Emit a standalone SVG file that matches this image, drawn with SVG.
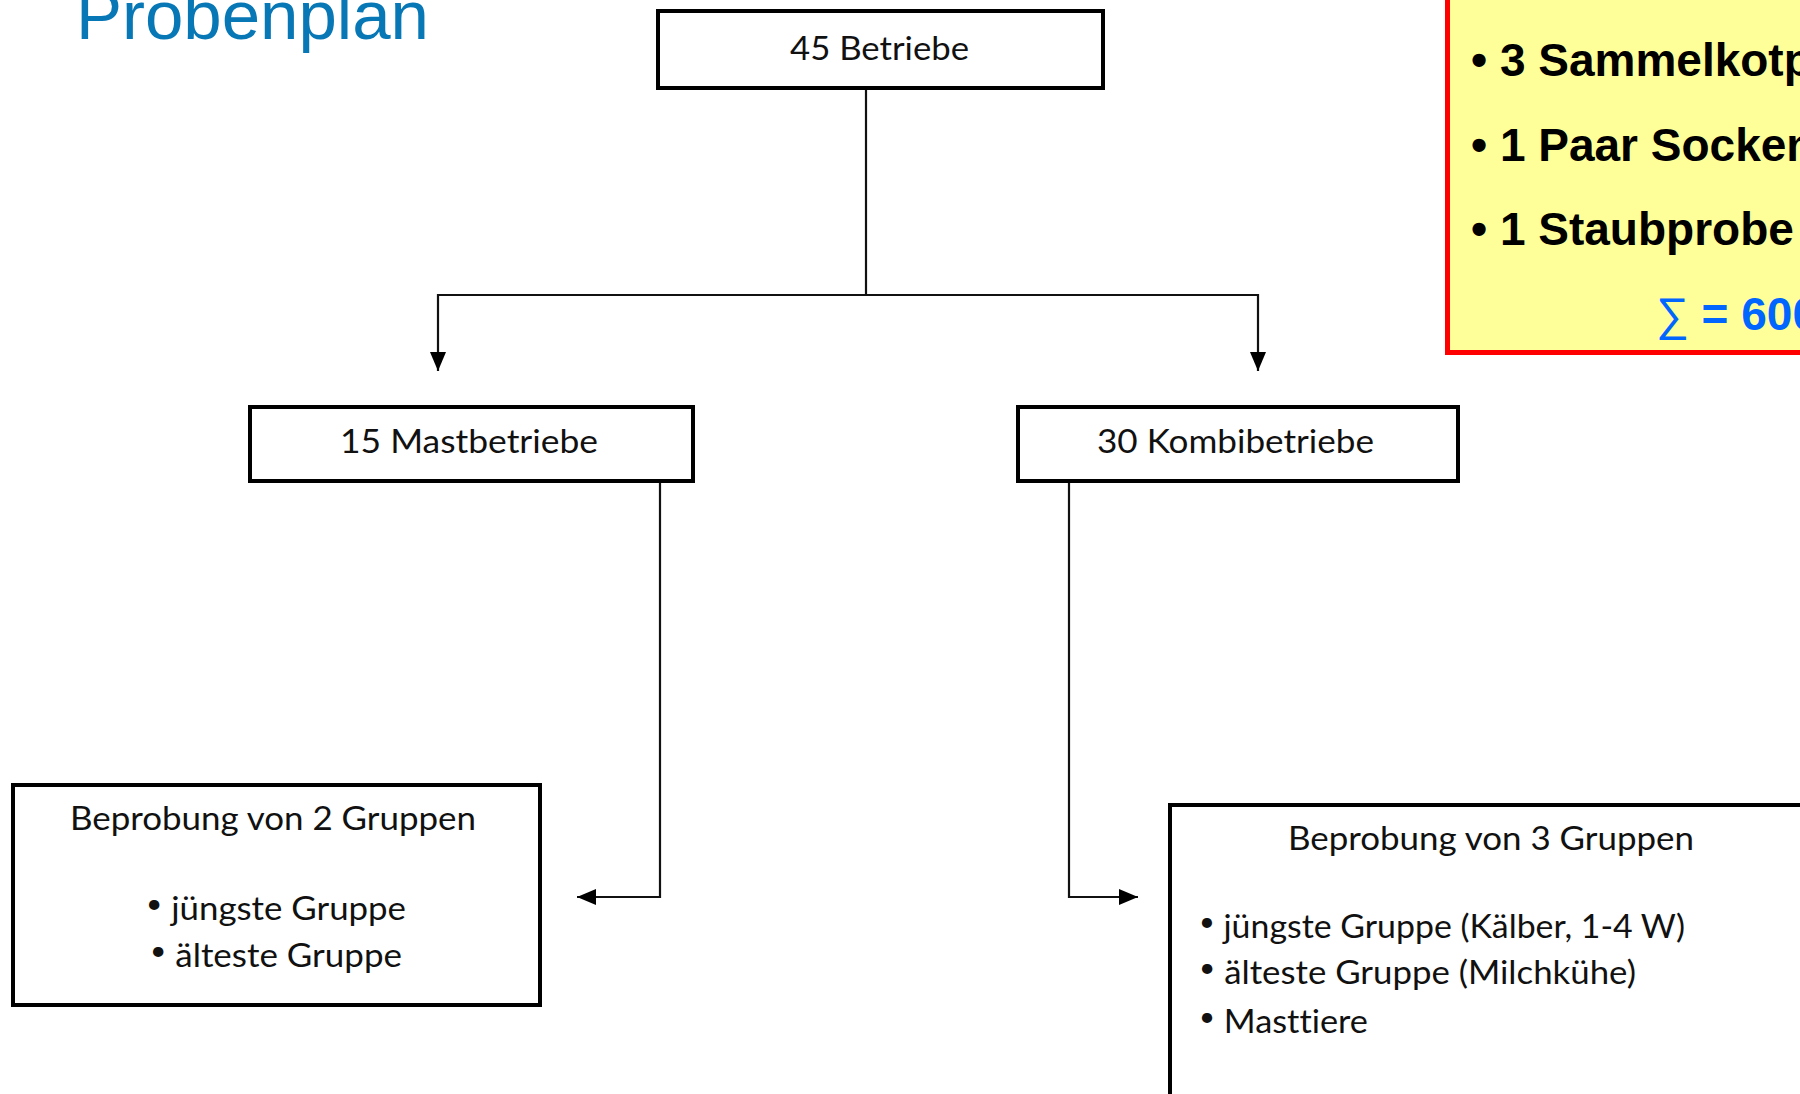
<svg xmlns="http://www.w3.org/2000/svg" width="1800" height="1094" viewBox="0 0 1800 1094">
<defs>
<style>
.box{fill:#fff;stroke:#000;stroke-width:4}
.lbl{font-family:Lato,"Liberation Sans",sans-serif;font-size:33.5px;fill:#111;font-variant-ligatures:none}
.bul{font-size:27px;baseline-shift:7px}
.con{fill:none;stroke:#111;stroke-width:2.2}
.note{font-family:"Liberation Sans",Arial,sans-serif;font-size:46px;font-weight:bold;fill:#000}
.sum{fill:#0066FF}
</style>
<marker id="ah" markerUnits="userSpaceOnUse" markerWidth="22" markerHeight="18" refX="19" refY="8" orient="auto">
<path d="M0,0 L19,8 L0,16 z" fill="#000"/>
</marker>
</defs>
<rect width="1800" height="1094" fill="#fff"/>
<text id="title" x="76" y="39" font-family="Liberation Sans,Arial,sans-serif" font-size="69" fill="#0877B5">Probenplan</text>

<g id="connectors">
<path class="con" d="M866,90 V295"/>
<path class="con" d="M866,295 H438 V371" marker-end="url(#ah)"/>
<path class="con" d="M866,295 H1258 V371" marker-end="url(#ah)"/>
<path class="con" d="M660,483 V897 H577" marker-end="url(#ah)"/>
<path class="con" d="M1069,483 V897 H1138" marker-end="url(#ah)"/>
</g>

<g id="n-betriebe">
<rect class="box" x="658" y="11" width="445" height="77"/>
<text class="lbl" x="790" y="60" textLength="179" lengthAdjust="spacingAndGlyphs">45 Betriebe</text>
</g>
<g id="n-mast">
<rect class="box" x="250" y="407" width="443" height="74"/>
<text class="lbl" x="340" y="453" textLength="258" lengthAdjust="spacingAndGlyphs">15 Mastbetriebe</text>
</g>
<g id="n-kombi">
<rect class="box" x="1018" y="407" width="440" height="74"/>
<text class="lbl" x="1097" y="453" textLength="277" lengthAdjust="spacingAndGlyphs">30 Kombibetriebe</text>
</g>
<g id="n-2gruppen">
<rect class="box" x="13" y="785" width="527" height="220"/>
<text class="lbl" x="70" y="830" textLength="406" lengthAdjust="spacingAndGlyphs">Beprobung von 2 Gruppen</text>
<text class="lbl" x="146" y="920" textLength="260" lengthAdjust="spacingAndGlyphs"><tspan class="bul">•</tspan> jüngste Gruppe</text>
<text class="lbl" x="150" y="967" textLength="252" lengthAdjust="spacingAndGlyphs"><tspan class="bul">•</tspan> älteste Gruppe</text>
</g>
<g id="n-3gruppen">
<rect class="box" x="1170" y="805" width="700" height="400"/>
<text class="lbl" x="1288" y="850" textLength="406" lengthAdjust="spacingAndGlyphs">Beprobung von 3 Gruppen</text>
<text class="lbl" x="1199" y="938" textLength="486" lengthAdjust="spacingAndGlyphs"><tspan class="bul">•</tspan> jüngste Gruppe (Kälber, 1-4 W)</text>
<text class="lbl" x="1199" y="984" textLength="437" lengthAdjust="spacingAndGlyphs"><tspan class="bul">•</tspan> älteste Gruppe (Milchkühe)</text>
<text class="lbl" x="1199" y="1033" textLength="169" lengthAdjust="spacingAndGlyphs"><tspan class="bul">•</tspan> Masttiere</text>
</g>
<g id="n-proben">
<rect x="1447.5" y="-20" width="400" height="372.5" fill="#FFFF99" stroke="#FF0000" stroke-width="5"/>
<text class="note" x="1471" y="76">• 3 Sammelkotproben</text>
<text class="note" x="1471" y="161">• 1 Paar Socken</text>
<text class="note" x="1471" y="245">• 1 Staubprobe</text>
<text class="note sum" x="1656" y="330"><tspan font-weight="normal">∑</tspan> = 600</text>
</g>
</svg>
